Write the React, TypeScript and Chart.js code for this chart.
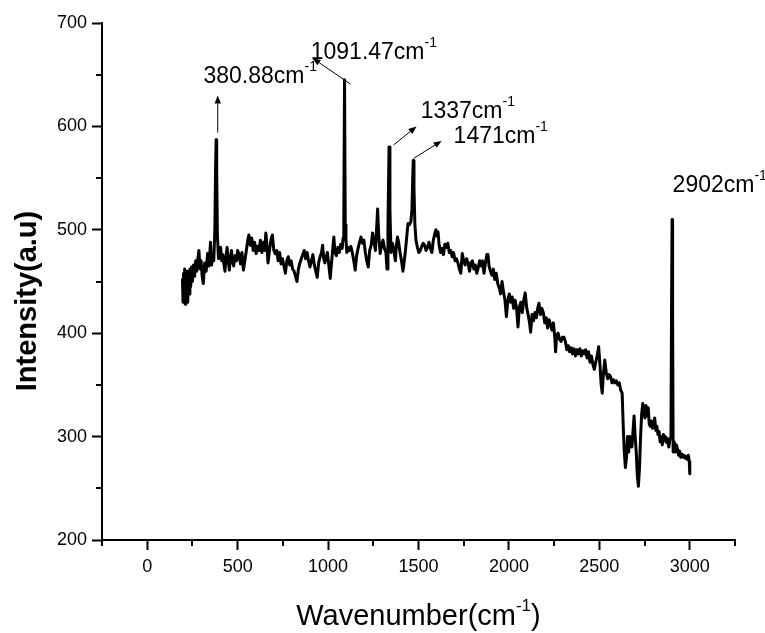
import React, { useEffect, useRef } from "react";
import { Chart, registerables } from "chart.js";

Chart.register(...registerables);

// ---- data ----
const wavenumbers: number[] = [
  195, 198, 201, 204, 207, 210, 213, 216, 220, 224, 228, 232, 236, 240, 245, 250, 256, 262, 268, 274,
  280, 286, 292, 298, 304, 310, 318, 326, 334, 342, 350, 356, 362, 368, 374, 378, 381, 384, 388, 394,
  400, 406, 412, 418, 424, 430, 436, 442, 448, 454, 460, 466, 472, 478, 486, 494, 500, 508, 516, 524,
  532, 540, 548, 556, 562, 570, 578, 586, 594, 602, 610, 618, 626, 634, 642, 650, 656, 662, 668, 676,
  684, 692, 700, 708, 716, 724, 732, 740, 748, 756, 764, 772, 780, 788, 796, 804, 812, 820, 828, 836,
  844, 852, 860, 868, 876, 884, 892, 900, 908, 916, 924, 932, 940, 948, 956, 964, 970, 976, 982, 990,
  996, 1004, 1012, 1020, 1026, 1032, 1038, 1046, 1054, 1062, 1070, 1078, 1083, 1087, 1091, 1095, 1099, 1104, 1110, 1118,
  1126, 1134, 1142, 1150, 1158, 1166, 1174, 1182, 1190, 1198, 1206, 1214, 1222, 1230, 1238, 1246, 1254, 1262, 1268, 1274,
  1280, 1288, 1296, 1304, 1312, 1320, 1326, 1331, 1337, 1342, 1348, 1356, 1364, 1372, 1378, 1384, 1390, 1398, 1406, 1414,
  1420, 1428, 1436, 1442, 1450, 1458, 1464, 1468, 1471, 1475, 1480, 1486, 1494, 1502, 1510, 1518, 1526, 1534, 1542, 1550,
  1558, 1566, 1574, 1582, 1590, 1596, 1602, 1608, 1614, 1622, 1630, 1638, 1646, 1654, 1662, 1670, 1678, 1686, 1694, 1702,
  1710, 1718, 1726, 1734, 1742, 1750, 1758, 1766, 1774, 1782, 1790, 1798, 1806, 1814, 1822, 1830, 1838, 1846, 1854, 1862,
  1870, 1878, 1884, 1890, 1898, 1906, 1914, 1922, 1930, 1938, 1946, 1954, 1962, 1970, 1978, 1986, 1994, 2002, 2010, 2018,
  2026, 2034, 2042, 2050, 2058, 2066, 2074, 2082, 2090, 2098, 2106, 2114, 2120, 2128, 2136, 2144, 2152, 2160, 2166, 2174,
  2182, 2190, 2198, 2206, 2214, 2222, 2230, 2238, 2246, 2254, 2258, 2264, 2272, 2280, 2288, 2296, 2304, 2312, 2320, 2328,
  2336, 2344, 2352, 2360, 2368, 2376, 2384, 2392, 2400, 2408, 2416, 2424, 2432, 2440, 2448, 2456, 2464, 2472, 2480, 2488,
  2496, 2504, 2510, 2516, 2522, 2530, 2538, 2546, 2554, 2562, 2570, 2578, 2586, 2594, 2602, 2610, 2618, 2626, 2632, 2638,
  2644, 2650, 2656, 2662, 2668, 2674, 2680, 2686, 2692, 2698, 2704, 2710, 2716, 2722, 2728, 2734, 2740, 2746, 2752, 2758,
  2764, 2770, 2776, 2782, 2788, 2794, 2800, 2806, 2812, 2818, 2824, 2830, 2836, 2842, 2848, 2854, 2860, 2866, 2872, 2878,
  2884, 2890, 2896, 2899, 2902, 2905, 2908, 2914, 2920, 2926, 2932, 2938, 2944, 2950, 2956, 2962, 2968, 2974, 2980, 2986,
  2992, 2997, 3000,
];

const intensities: number[] = [
  452, 430, 458, 440, 462, 428, 455, 435, 460, 430, 458, 438, 462, 445, 464, 450, 466, 455, 470, 460,
  472, 480, 462, 470, 455, 448, 468, 460, 477, 465, 488, 466, 475, 470, 500, 560, 587, 560, 495, 472,
  480, 483, 470, 476, 467, 460, 475, 483, 470, 461, 472, 480, 470, 465, 475, 470, 480, 476, 467, 478,
  461, 470, 480, 490, 495, 485, 492, 480, 488, 477, 484, 480, 490, 478, 488, 480, 497, 485, 468, 480,
  490, 495, 480, 477, 480, 470, 478, 467, 472, 465, 458, 470, 474, 466, 470, 462, 460, 455, 450, 462,
  468, 472, 476, 480, 472, 478, 470, 464, 470, 476, 466, 460, 454, 468, 474, 478, 485, 472, 468, 474,
  478, 466, 453, 470, 482, 493, 478, 475, 483, 478, 486, 482, 492, 510, 645, 505, 490, 478, 483, 480,
  484, 478, 470, 461, 475, 482, 488, 493, 487, 490, 478, 470, 464, 480, 485, 497, 488, 480, 500, 520,
  495, 477, 485, 490, 482, 478, 462, 500, 580, 520, 478, 487, 480, 470, 485, 493, 488, 478, 470, 460,
  468, 480, 495, 506, 505, 508, 520, 550, 567, 540, 505, 490, 483, 478, 480, 484, 487, 485, 480, 483,
  488, 482, 478, 490, 496, 500, 494, 498, 485, 478, 482, 476, 486, 483, 487, 478, 480, 474, 478, 470,
  472, 468, 462, 458, 477, 470, 466, 472, 468, 460, 468, 470, 462, 466, 458, 463, 470, 465, 470, 458,
  468, 476, 476, 465, 460, 456, 462, 452, 458, 448, 444, 438, 450, 440, 432, 416, 432, 438, 430, 435,
  424, 432, 425, 406, 425, 430, 420, 432, 439, 425, 418, 410, 401, 418, 412, 420, 415, 425, 429, 418,
  424, 420, 410, 415, 405, 413, 408, 403, 410, 395, 382, 398, 400, 394, 392, 396, 396, 392, 384, 388,
  382, 386, 380, 385, 378, 384, 380, 385, 378, 383, 380, 384, 376, 382, 372, 378, 370, 365, 372, 378,
  387, 368, 350, 342, 360, 374, 362, 356, 360, 358, 352, 355, 352, 354, 350, 352, 345, 342, 310, 285,
  270, 280, 300, 285, 300, 292, 290, 305, 320, 300, 285, 262, 252, 270, 300, 322, 332, 326, 318, 330,
  320, 328, 312, 310, 315, 308, 310, 318, 306, 310, 302, 305, 295, 300, 292, 302, 296, 300, 294, 298,
  290, 297, 300, 420, 510, 420, 285, 295, 285, 292, 288, 282, 286, 280, 283, 280, 282, 279, 281, 278,
  282, 276, 264,
];

const xMajorTicks: number[] = [0, 500, 1000, 1500, 2000, 2500, 3000];
const xMinorTicks: number[] = [-250, 250, 750, 1250, 1750, 2250, 2750, 3250];
const yMajorTicks: number[] = [200, 300, 400, 500, 600, 700];
const yMinorTicks: number[] = [250, 350, 450, 550, 650];

// peak annotations (data coordinates)
const peakLabels: string[] = ["380.88cm", "1091.47cm", "1337cm", "1471cm", "2902cm"];
const labelAnchorX: number[] = [311, 904, 1512, 1694, 2905];
const labelAnchorY: number[] = [642, 665, 608, 584, 537];
const arrowFromX: (number | null)[] = [390, 1124, 1362, 1473, null];
const arrowFromY: (number | null)[] = [594, 641, 582, 569, null];
const arrowToX: (number | null)[] = [390, 914, 1489, 1628, null];
const arrowToY: (number | null)[] = [630, 666, 600, 586, null];

const FONT = '"Liberation Sans", Arial, Helvetica, sans-serif';

function drawSupText(
  ctx: CanvasRenderingContext2D,
  x: number,
  y: number,
  base: string,
  sup: string,
  tail: string,
  size: number,
  supSize: number,
  raise: number,
  align: "left" | "center"
) {
  ctx.save();
  ctx.fillStyle = "#000";
  ctx.textBaseline = "alphabetic";
  ctx.textAlign = "left";
  ctx.font = `${size}px ${FONT}`;
  const wBase = ctx.measureText(base).width;
  const wTail = ctx.measureText(tail).width;
  ctx.font = `${supSize}px ${FONT}`;
  const wSup = ctx.measureText(sup).width;
  const total = wBase + wSup + wTail;
  let sx = align === "center" ? x - total / 2 : x;
  ctx.font = `${size}px ${FONT}`;
  ctx.fillText(base, sx, y);
  sx += wBase;
  ctx.font = `${supSize}px ${FONT}`;
  ctx.fillText(sup, sx, y - raise);
  sx += wSup;
  if (tail) {
    ctx.font = `${size}px ${FONT}`;
    ctx.fillText(tail, sx, y);
  }
  ctx.restore();
}

const decorPlugin = {
  id: "decor",
  afterDraw(chart: any) {
    const ctx: CanvasRenderingContext2D = chart.ctx;
    const xs = chart.scales.x;
    const ys = chart.scales.y;
    const area = chart.chartArea;
    ctx.save();
    // minor ticks
    ctx.strokeStyle = "#000";
    ctx.lineWidth = 2;
    ctx.beginPath();
    xMinorTicks.forEach((v) => {
      const px = Math.round(xs.getPixelForValue(v));
      ctx.moveTo(px, area.bottom);
      ctx.lineTo(px, area.bottom + 6);
    });
    yMinorTicks.forEach((v) => {
      const py = Math.round(ys.getPixelForValue(v));
      ctx.moveTo(area.left, py);
      ctx.lineTo(area.left - 6, py);
    });
    ctx.stroke();

    // arrows
    ctx.lineWidth = 1;
    for (let i = 0; i < peakLabels.length; i++) {
      if (arrowFromX[i] == null) continue;
      const x1 = xs.getPixelForValue(arrowFromX[i]);
      const y1 = ys.getPixelForValue(arrowFromY[i]);
      const x2 = xs.getPixelForValue(arrowToX[i]);
      const y2 = ys.getPixelForValue(arrowToY[i]);
      const ang = Math.atan2(y2 - y1, x2 - x1);
      const hl = 8;
      const hw = 3.2;
      const bx = x2 - hl * Math.cos(ang);
      const by = y2 - hl * Math.sin(ang);
      ctx.beginPath();
      ctx.moveTo(x1, y1);
      ctx.lineTo(bx, by);
      ctx.stroke();
      ctx.beginPath();
      ctx.moveTo(x2, y2);
      ctx.lineTo(bx + hw * Math.sin(ang), by - hw * Math.cos(ang));
      ctx.lineTo(bx - hw * Math.sin(ang), by + hw * Math.cos(ang));
      ctx.closePath();
      ctx.fillStyle = "#000";
      ctx.fill();
    }

    // peak labels
    for (let i = 0; i < peakLabels.length; i++) {
      const lx = xs.getPixelForValue(labelAnchorX[i]);
      const ly = ys.getPixelForValue(labelAnchorY[i]);
      drawSupText(ctx, lx, ly, peakLabels[i], "-1", "", 23, 14, 12, "left");
    }

    // x title
    drawSupText(ctx, (area.left + area.right) / 2, 625, "Wavenumber(cm", "-1", ")", 29, 17, 14, "center");

    // y title
    ctx.save();
    ctx.translate(28, 301);
    ctx.rotate(-Math.PI / 2);
    ctx.font = `bold 29px ${FONT}`;
    ctx.fillStyle = "#000";
    ctx.textAlign = "center";
    ctx.textBaseline = "middle";
    ctx.fillText("Intensity(a.u)", 0, 0);
    ctx.restore();

    ctx.restore();
  },
};

export default function App() {
  const ref = useRef<HTMLCanvasElement | null>(null);
  useEffect(() => {
    document.body.style.margin = "0";
    document.body.style.overflow = "hidden";
    const canvas = ref.current!;
    const points = wavenumbers.map((w, i) => ({ x: w, y: intensities[i] }));
    const chart = new Chart(canvas, {
      type: "line",
      data: {
        datasets: [
          {
            data: points,
            borderColor: "#000",
            borderWidth: 3,
            borderJoinStyle: "round",
            borderCapStyle: "round",
            pointRadius: 0,
            tension: 0,
            fill: false,
          },
        ],
      },
      options: {
        animation: false,
        responsive: false,
        maintainAspectRatio: false,
        layout: { padding: { top: 23, right: 30, left: 0, bottom: 0 } },
        plugins: {
          legend: { display: false },
          tooltip: { enabled: false },
          title: { display: false },
        },
        scales: {
          x: {
            type: "linear",
            min: -250,
            max: 3250,
            afterBuildTicks: (s: any) => {
              s.ticks = xMajorTicks.map((v) => ({ value: v }));
            },
            afterFit: (s: any) => {
              s.height = 93;
            },
            ticks: {
              color: "#000",
              font: { family: FONT, size: 18 },
              padding: 6,
              maxRotation: 0,
              autoSkip: false,
              callback: (v: any) => String(v),
            },
            grid: {
              drawOnChartArea: false,
              drawTicks: true,
              tickLength: 10,
              tickWidth: 2,
              tickColor: "#000",
            },
            border: { display: true, color: "#000", width: 2 },
          },
          y: {
            type: "linear",
            min: 200,
            max: 700,
            afterBuildTicks: (s: any) => {
              s.ticks = yMajorTicks.map((v) => ({ value: v }));
            },
            afterFit: (s: any) => {
              s.width = 102;
            },
            ticks: {
              color: "#000",
              font: { family: FONT, size: 18 },
              padding: 5,
              autoSkip: false,
              callback: (v: any) => String(v),
            },
            grid: {
              drawOnChartArea: false,
              drawTicks: true,
              tickLength: 10,
              tickWidth: 2,
              tickColor: "#000",
            },
            border: { display: true, color: "#000", width: 2 },
          },
        },
      },
      plugins: [decorPlugin],
    });
    return () => chart.destroy();
  }, []);
  return (
    <canvas
      ref={ref}
      width={765}
      height={633}
      style={{ display: "block", width: 765, height: 633 }}
    />
  );
}
